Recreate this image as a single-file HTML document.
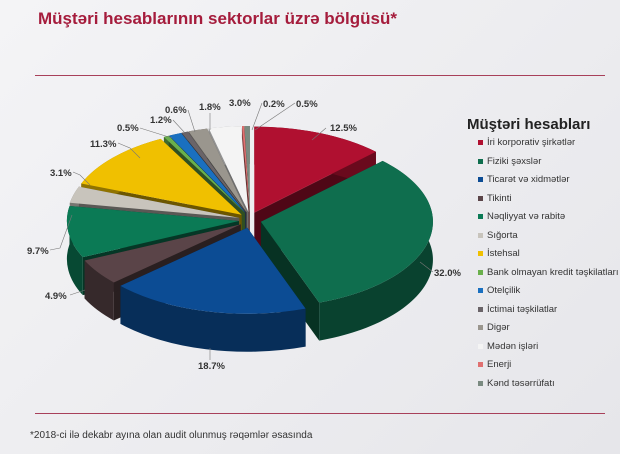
<!DOCTYPE html>
<html><head><meta charset="utf-8"><style>
body{margin:0;width:620px;height:454px;overflow:hidden;background:linear-gradient(135deg,#f4f4f6,#e6e6ea);font-family:"Liberation Sans",sans-serif;position:relative}
.t{position:absolute;left:38px;top:9px;font-size:17px;font-weight:bold;color:#a51c3c}
.l1{position:absolute;left:35px;top:75px;width:570px;height:1px;background:#a8405a}
.l2{position:absolute;left:35px;top:413px;width:570px;height:1px;background:#a8405a}
.f{position:absolute;left:30px;top:430px;font-size:10px;color:#333}
.lg{position:absolute;left:467px;top:116px;font-size:9.5px;color:#333}
.lg b{display:block;font-size:15px;color:#222;margin-bottom:4px}
.lg div{height:18.5px;padding-left:12px;position:relative;left:8px;white-space:nowrap}
.lg div i{position:absolute;left:3px;top:3px;width:5px;height:5px}
svg{position:absolute;left:0;top:0}
</style></head><body>
<div class="t">Müştəri hesablarının sektorlar üzrə bölgüsü*</div>
<div class="l1"></div><div class="l2"></div>
<svg id="s" width="620" height="454" font-family="Liberation Sans" font-size="9.5" font-weight="bold" fill="#333">
<g id="p"></g>
<g stroke="#777" stroke-width="0.6" fill="none">
<polyline points="326,128 312,140"/><polyline points="433,272 420,262"/><polyline points="210,360 210,348"/>
<polyline points="70,295 85,290"/><polyline points="50,250 60,248 72,215"/><polyline points="73,172 80,175 90,185"/>
<polyline points="118,143 130,148 140,158"/><polyline points="140,128 172,138"/><polyline points="173,120 185,133"/>
<polyline points="188,110 195,132"/><polyline points="210,113 210,130"/><polyline points="262,103 252,130"/>
<polyline points="295,103 255,130"/>
</g>
<text x="330" y="131">12.5%</text><text x="434" y="276">32.0%</text><text x="198" y="369">18.7%</text>
<text x="45" y="299">4.9%</text><text x="27" y="254">9.7%</text><text x="50" y="176">3.1%</text>
<text x="90" y="147">11.3%</text><text x="117" y="131">0.5%</text><text x="150" y="123">1.2%</text>
<text x="165" y="113">0.6%</text><text x="199" y="110">1.8%</text><text x="229" y="106">3.0%</text>
<text x="263" y="107">0.2%</text><text x="296" y="107">0.5%</text>
</svg>
<div class="lg"><b>Müştəri hesabları</b>
<div><i style="background:#b01030"></i>İri korporativ şirkətlər</div>
<div><i style="background:#0f6e4e"></i>Fiziki şəxslər</div>
<div><i style="background:#0c4c94"></i>Ticarət və xidmətlər</div>
<div><i style="background:#5a4448"></i>Tikinti</div>
<div><i style="background:#0b7a55"></i>Nəqliyyat və rabitə</div>
<div><i style="background:#c8c4bc"></i>Sığorta</div>
<div><i style="background:#f0c000"></i>İstehsal</div>
<div><i style="background:#6ab04c"></i>Bank olmayan kredit təşkilatları</div>
<div><i style="background:#1a70c0"></i>Otelçilik</div>
<div><i style="background:#6a6468"></i>İctimai təşkilatlar</div>
<div><i style="background:#9a968e"></i>Digər</div>
<div><i style="background:#f4f4f4"></i>Mədən işləri</div>
<div><i style="background:#e07070"></i>Enerji</div>
<div><i style="background:#7a8a80"></i>Kənd təsərrüfatı</div>
</div>
<div class="f">*2018-ci ilə dekabr ayına olan audit olunmuş rəqəmlər əsasında</div>
<script>
var d=[[12.5,"#b01030"],[32,"#0f6e4e"],[18.7,"#0c4c94"],[4.9,"#5a4448"],[9.7,"#0b7a55"],[3.1,"#c8c4bc"],[11.3,"#f0c000"],[0.5,"#6ab04c"],[1.2,"#1a70c0"],[0.6,"#6a6468"],[1.8,"#9a968e"],[3.0,"#f4f4f4"],[0.2,"#e07070"],[0.5,"#7a8a80"]];
var cx=250,cy=220,rx=172,ry=86,D=38,E=8,a=0,sl=[];
function dk(c,f){var n=parseInt(c.slice(1),16);return "rgb("+[n>>16,(n>>8)&255,n&255].map(function(v){return Math.round(v*f)}).join(",")+")";}
d.forEach(function(v){var a1=a,a2=a+v[0]*3.6;a=a2;sl.push([a1,a2,v[1]]);});
sl.sort(function(p,q){return Math.cos((q[0]+q[1])/360*Math.PI)-Math.cos((p[0]+p[1])/360*Math.PI)});
var w="",t="";
function pt(x0,y0,t){t=t*Math.PI/180;return [x0+rx*Math.sin(t),y0-ry*Math.cos(t)];}
sl.forEach(function(s){var m=(s[0]+s[1])/2*Math.PI/180,ox=cx+E*Math.sin(m)*1.4,oy=cy-E*Math.cos(m);
var A=pt(ox,oy,s[0]),B=pt(ox,oy,s[1]),l=(s[1]-s[0])>180?1:0;
var Ab=[A[0],A[1]+D],Bb=[B[0],B[1]+D];
w+='<path d="M'+ox+','+oy+'L'+A[0]+','+A[1]+'L'+Ab[0]+','+Ab[1]+'L'+ox+','+(oy+D)+'Z" fill="'+dk(s[2],0.45)+'"/>';
w+='<path d="M'+ox+','+oy+'L'+B[0]+','+B[1]+'L'+Bb[0]+','+Bb[1]+'L'+ox+','+(oy+D)+'Z" fill="'+dk(s[2],0.45)+'"/>';
w+='<path d="M'+A[0]+','+A[1]+'A'+rx+','+ry+' 0 '+l+' 1 '+B[0]+','+B[1]+'L'+Bb[0]+','+Bb[1]+'A'+rx+','+ry+' 0 '+l+' 0 '+Ab[0]+','+Ab[1]+'Z" fill="'+dk(s[2],0.6)+'"/>';
t+='<path d="M'+ox+','+oy+'L'+A[0]+','+A[1]+'A'+rx+','+ry+' 0 '+l+' 1 '+B[0]+','+B[1]+'Z" fill="'+s[2]+'"/>';
});
document.getElementById("p").innerHTML=w+t;
</script>
</body></html>
